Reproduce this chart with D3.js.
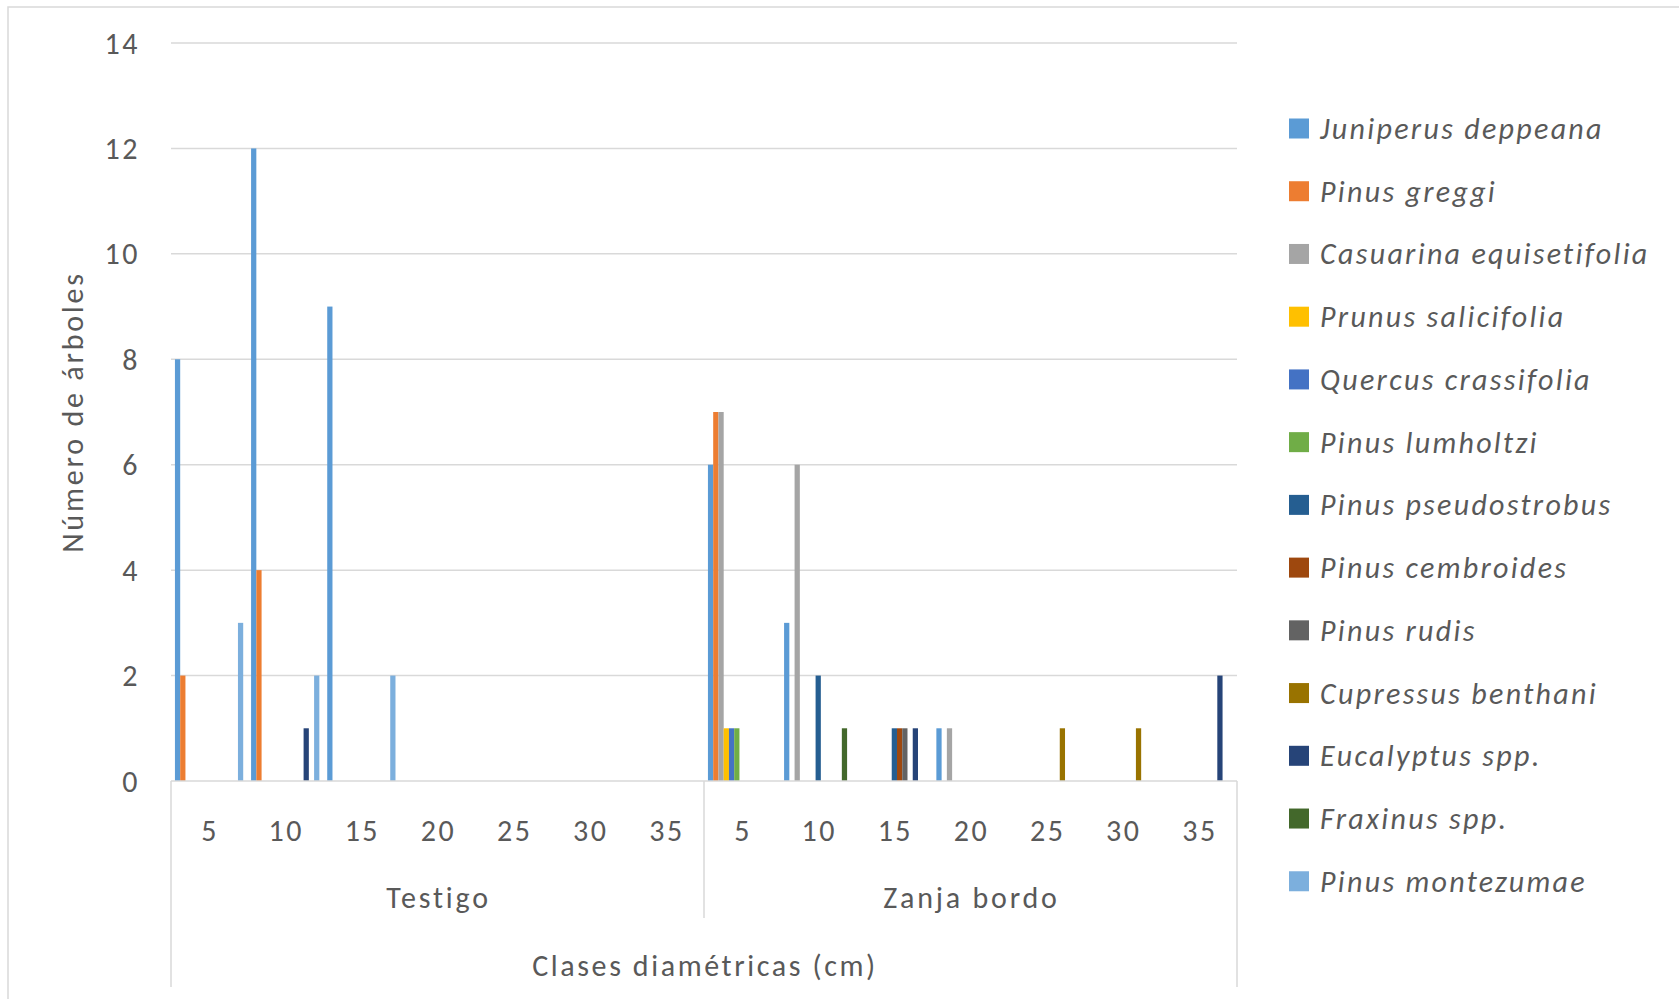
<!DOCTYPE html>
<html>
<head>
<meta charset="utf-8">
<script src="https://cdn.jsdelivr.net/npm/d3@7/dist/d3.min.js"></script>
<style>
  html, body { margin: 0; padding: 0; background: #fff; }
  svg { display: block; }
  text { font-family: Carlito, Calibri, Lato, "Open Sans", sans-serif; fill: #595959; letter-spacing: 2.5px; }
</style>
</head>
<body>
<svg id="chart" width="1679" height="999"></svg>
<script>
// Sites and diameter classes (cm)
const groups = ["Testigo", "Zanja bordo"];
const classes = [5, 10, 15, 20, 25, 30, 35];
const yTicks = [0, 2, 4, 6, 8, 10, 12, 14];

const species = [
  "Juniperus deppeana", "Pinus greggi", "Casuarina equisetifolia", "Prunus salicifolia",
  "Quercus crassifolia", "Pinus lumholtzi", "Pinus pseudostrobus", "Pinus cembroides",
  "Pinus rudis", "Cupressus benthani", "Eucalyptus spp.", "Fraxinus spp.", "Pinus montezumae"
];
const colors = [
  "#5B9BD5", "#ED7D31", "#A5A5A5", "#FFC000", "#4472C4", "#70AD47", "#255E91",
  "#9E480E", "#636363", "#997300", "#264478", "#43682B", "#7CAFDD"
];

// Number of trees per class: Testigo (5..35) then Zanja bordo (5..35)
const juniperusDeppeana     = [8, 12, 9, 0, 0, 0, 0,   6, 3, 0, 1, 0, 0, 0];
const pinusGreggi           = [2, 4, 0, 0, 0, 0, 0,    7, 0, 0, 0, 0, 0, 0];
const casuarinaEquisetifolia= [0, 0, 0, 0, 0, 0, 0,    7, 6, 0, 1, 0, 0, 0];
const prunusSalicifolia     = [0, 0, 0, 0, 0, 0, 0,    1, 0, 0, 0, 0, 0, 0];
const quercusCrassifolia    = [0, 0, 0, 0, 0, 0, 0,    1, 0, 0, 0, 0, 0, 0];
const pinusLumholtzi        = [0, 0, 0, 0, 0, 0, 0,    1, 0, 0, 0, 0, 0, 0];
const pinusPseudostrobus    = [0, 0, 0, 0, 0, 0, 0,    0, 2, 1, 0, 0, 0, 0];
const pinusCembroides       = [0, 0, 0, 0, 0, 0, 0,    0, 0, 1, 0, 0, 0, 0];
const pinusRudis            = [0, 0, 0, 0, 0, 0, 0,    0, 0, 1, 0, 0, 0, 0];
const cupressusBenthani     = [0, 0, 0, 0, 0, 0, 0,    0, 0, 0, 0, 1, 1, 0];
const eucalyptusSpp         = [0, 1, 0, 0, 0, 0, 0,    0, 0, 1, 0, 0, 0, 2];
const fraxinusSpp           = [0, 0, 0, 0, 0, 0, 0,    0, 1, 0, 0, 0, 0, 0];
const pinusMontezumae       = [3, 2, 2, 0, 0, 0, 0,    0, 0, 0, 0, 0, 0, 0];

const seriesValues = [
  juniperusDeppeana, pinusGreggi, casuarinaEquisetifolia, prunusSalicifolia,
  quercusCrassifolia, pinusLumholtzi, pinusPseudostrobus, pinusCembroides,
  pinusRudis, cupressusBenthani, eucalyptusSpp, fraxinusSpp, pinusMontezumae
];

const svg = d3.select("#chart");
const grid = "#D9D9D9";
const plot = { left: 171, right: 1237, top: 43, bottom: 781 };

// Outer chart frame
svg.append("rect")
  .attr("x", 8).attr("y", 7).attr("width", 1700).attr("height", 1020)
  .attr("fill", "none").attr("stroke", grid).attr("stroke-width", 1.5);

// Scales: site -> diameter class -> species
const x0 = d3.scaleBand().domain(groups).range([plot.left, plot.right]).padding(0);
const x1 = d3.scaleBand().domain(classes).range([0, x0.bandwidth()]).padding(0);
const x2 = d3.scaleBand().domain(d3.range(species.length)).range([0, x1.bandwidth()])
  .paddingInner(0).paddingOuter(0.75);
const y = d3.scaleLinear().domain([0, 14]).range([plot.bottom, plot.top]);

// Horizontal gridlines
svg.append("g").selectAll("line").data(yTicks.filter(t => t > 0)).join("line")
  .attr("x1", plot.left).attr("x2", plot.right)
  .attr("y1", d => y(d)).attr("y2", d => y(d))
  .attr("stroke", grid).attr("stroke-width", 1.5);

// Y axis tick labels
svg.append("g").selectAll("text").data(yTicks).join("text")
  .attr("x", 140).attr("y", d => y(d)).attr("dy", "0.35em")
  .attr("text-anchor", "end").attr("font-size", 30)
  .text(d => d);

// Y axis title
svg.append("text")
  .attr("transform", `translate(72, ${(plot.top + plot.bottom) / 2}) rotate(-90)`)
  .attr("text-anchor", "middle").attr("dy", "0.35em").attr("font-size", 30)
  .style("letter-spacing", "2.8px")
  .text("Número de árboles");

// Bars
const bars = [];
seriesValues.forEach((vals, s) => {
  vals.forEach((v, k) => {
    if (v > 0) bars.push({ s, g: groups[Math.floor(k / classes.length)], c: classes[k % classes.length], v });
  });
});
svg.append("g").selectAll("rect").data(bars).join("rect")
  .attr("x", d => x0(d.g) + x1(d.c) + x2(d.s))
  .attr("width", x2.bandwidth())
  .attr("y", d => y(d.v))
  .attr("height", d => y(0) - y(d.v))
  .attr("fill", d => colors[d.s]);

// Category axis (multi-level)
const axis = svg.append("g").attr("stroke", grid).attr("stroke-width", 1.5);
axis.append("line").attr("x1", plot.left).attr("x2", plot.right)
  .attr("y1", plot.bottom).attr("y2", plot.bottom);
axis.append("line").attr("x1", plot.left).attr("x2", plot.left)
  .attr("y1", plot.bottom).attr("y2", 987);
axis.append("line").attr("x1", plot.right).attr("x2", plot.right)
  .attr("y1", plot.bottom).attr("y2", 987);
axis.selectAll("line.sep").data(groups.slice(1)).join("line").attr("class", "sep")
  .attr("x1", d => x0(d)).attr("x2", d => x0(d))
  .attr("y1", plot.bottom).attr("y2", 918);

// Class labels
groups.forEach(g => {
  svg.append("g").selectAll("text").data(classes).join("text")
    .attr("x", d => x0(g) + x1(d) + x1.bandwidth() / 2 + 1)
    .attr("y", 830).attr("dy", "0.35em")
    .attr("text-anchor", "middle").attr("font-size", 30)
    .text(d => d);
});

// Site labels
svg.append("g").selectAll("text").data(groups).join("text")
  .attr("x", d => x0(d) + x0.bandwidth() / 2 + 1)
  .attr("y", 897).attr("dy", "0.35em")
  .attr("text-anchor", "middle").attr("font-size", 30)
  .style("letter-spacing", "2.8px")
  .text(d => d);

// X axis title
svg.append("text")
  .attr("x", (plot.left + plot.right) / 2 + 1).attr("y", 965).attr("dy", "0.35em")
  .attr("text-anchor", "middle").attr("font-size", 30)
  .style("letter-spacing", "2.6px")
  .text("Clases diamétricas (cm)");

// Legend
const legend = svg.append("g").selectAll("g").data(species).join("g")
  .attr("transform", (d, i) => `translate(1289, ${128.5 + i * 62.73})`);
legend.append("rect")
  .attr("x", 0).attr("y", -10).attr("width", 20).attr("height", 20)
  .attr("fill", (d, i) => colors[i]);
legend.append("text")
  .attr("x", 31).attr("y", 0).attr("dy", "0.35em")
  .attr("font-size", 30).attr("font-style", "italic")
  .style("letter-spacing", "2.3px")
  .text(d => d);
</script>
</body>
</html>
